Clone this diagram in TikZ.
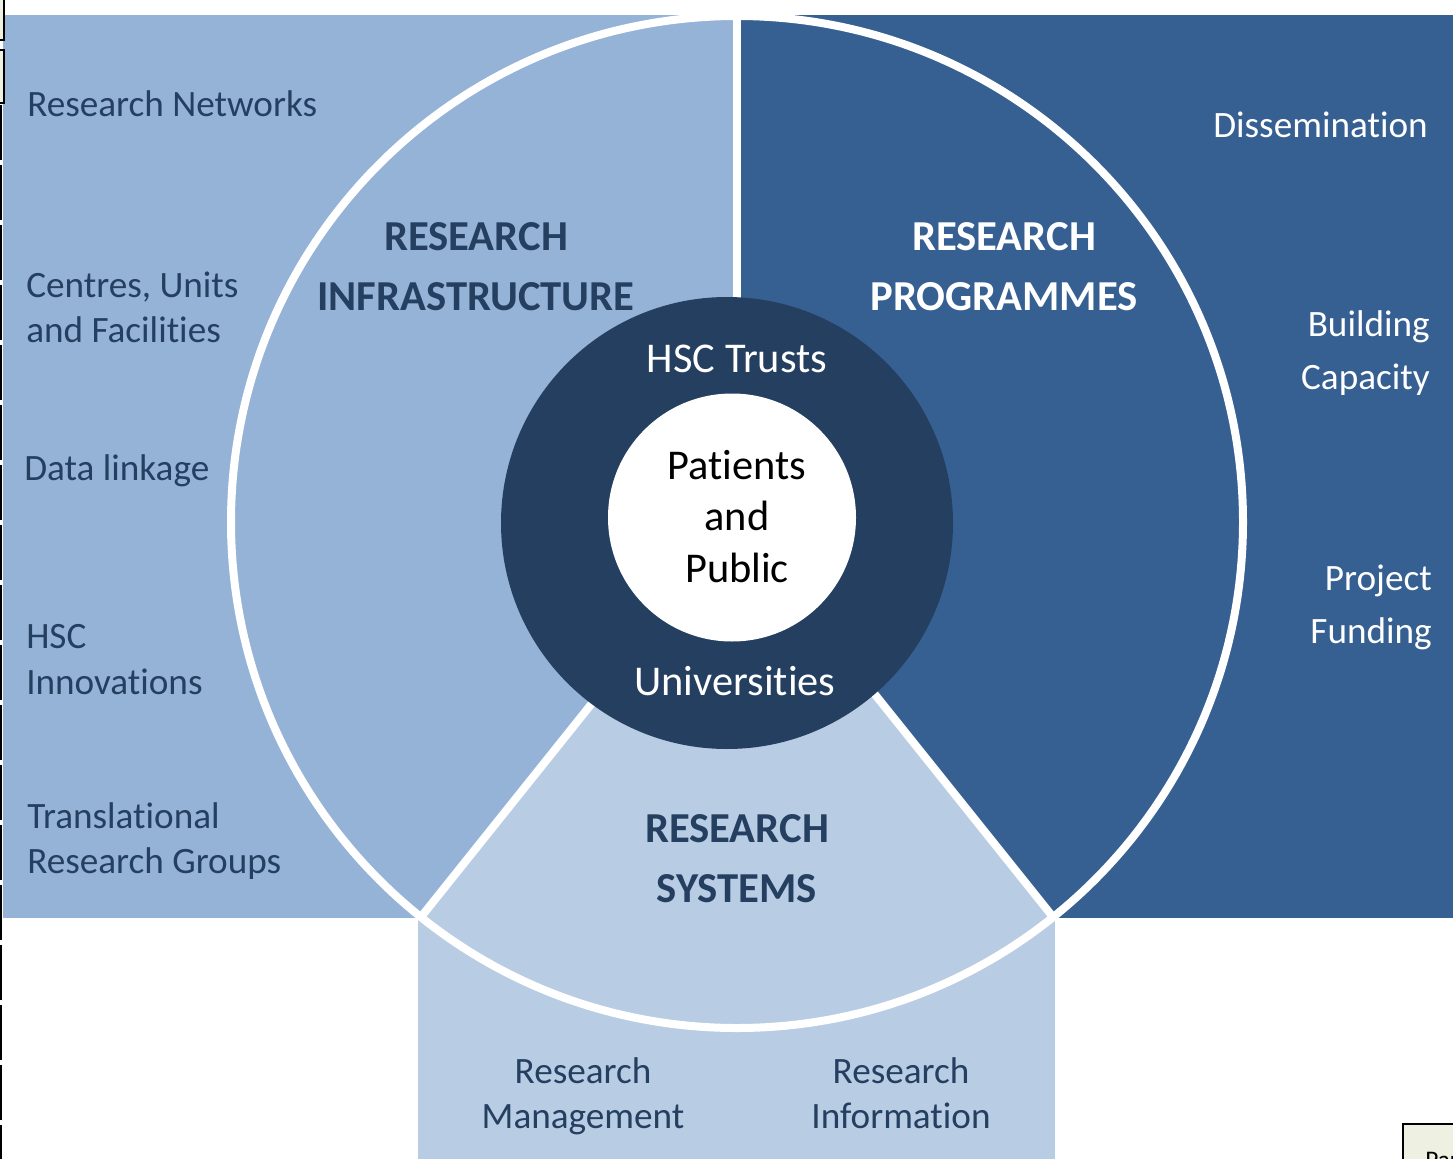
\documentclass[tikz,border=0pt]{standalone}
\usepackage{fontspec}
\setmainfont{Carlito}[Ligatures={NoCommon,NoContextual},Contextuals=NoAlternate]
\definecolor{infra}{HTML}{95B3D7}
\definecolor{prog}{HTML}{366092}
\definecolor{sys}{HTML}{B8CCE4}
\definecolor{core}{HTML}{243F60}
\definecolor{txt}{HTML}{243F60}
\definecolor{note}{HTML}{EEF0E2}
\begin{document}
\begin{tikzpicture}[x=0.75pt,y=-0.75pt,
  body/.style={font=\fontsize{27.9}{33}\selectfont, inner sep=0pt},
  head/.style={font=\bfseries\fontsize{32}{38}\selectfont, inner sep=0pt},
  mid/.style={font=\fontsize{31.8}{38}\selectfont, inner sep=0pt},
  divider/.style={draw=white, line width=6pt},
  dark/.style={text=txt},
  light/.style={text=white}]
\useasboundingbox (0,0) rectangle (1453,1159);
\clip (0,0) rectangle (1453,1159);
% background panels
\fill[infra] (3,15) rectangle (737,918);
\fill[prog] (737,15) rectangle (1453,918);
\fill[sys] (418,918) rectangle (1055,1159);
% wheel
\coordinate (O) at (737,522);
\coordinate (top) at (737,16);
\coordinate (rb) at (1053,917);
\coordinate (lb) at (421,917);
\begin{scope}
  \clip (O) circle[radius=506];
  \fill[infra] (O) circle[radius=520];
  \fill[prog] (O) -- (737,-600) -- (2317,-600) -- (2317,2497) -- cycle;
  \fill[sys] (O) -- (2317,2497) -- (-843,2497) -- cycle;
\end{scope}
\draw[divider] (O) circle[radius=506];
\draw[divider] (O) -- (top);
\draw[divider] (O) -- (rb);
\draw[divider] (O) -- (lb);
\node[circle, fill=core, minimum size=339pt, inner sep=0pt] (ring) at (727,523) {};
\node[circle, fill=white, minimum size=186pt, inner sep=0pt] (hub) at (732,517.5) {};
% left panel items
\node[body, dark, anchor=base west] (rn) at (27,117) {Research Networks};
\node[body, dark, anchor=base west] (cu1) at (26,297) {Centres, Units};
\node[body, dark, anchor=base west] (cu2) at (26,342) {and Facilities};
\node[body, dark, anchor=base west] (dl) at (24,480) {Data linkage};
\node[body, dark, anchor=base west] (hi1) at (26,648) {HSC};
\node[body, dark, anchor=base west] (hi2) at (26,694) {Innovations};
\node[body, dark, anchor=base west] (tr1) at (27,828) {Translational};
\node[body, dark, anchor=base west] (tr2) at (27,873) {Research Groups};
% right panel items
\node[body, light, anchor=base east] (ds) at (1428,138) {Dissemination};
\node[body, light, anchor=base east] (bc1) at (1430,336) {Building};
\node[body, light, anchor=base east] (bc2) at (1430,389) {Capacity};
\node[body, light, anchor=base east] (pf1) at (1432,590) {Project};
\node[body, light, anchor=base east] (pf2) at (1432,643) {Funding};
% headings
\node[head, dark, anchor=base] (ri1) at (476,250) {RESEARCH};
\node[head, dark, anchor=base] (ri2) at (476,310) {INFRASTRUCTURE};
\node[head, light, anchor=base] (rp1) at (1004,250) {RESEARCH};
\node[head, light, anchor=base] (rp2) at (1004,310) {PROGRAMMES};
\node[head, dark, anchor=base] (rs1) at (737,842) {RESEARCH};
\node[head, dark, anchor=base] (rs2) at (737,902) {SYSTEMS};
% core
\node[mid, light, anchor=base] (hsc) at (737,372) {HSC Trusts};
\node[mid, light, anchor=base] (uni) at (735,695) {Universities};
\node[mid, text=black, anchor=base] (pp1) at (737,479) {Patients};
\node[mid, text=black, anchor=base] (pp2) at (737,530) {and};
\node[mid, text=black, anchor=base] (pp3) at (737,582) {Public};
% bottom panel items
\node[body, dark, anchor=base] (rm1) at (583,1083) {Research};
\node[body, dark, anchor=base] (rm2) at (583,1128) {Management};
\node[body, dark, anchor=base] (ri3) at (901,1083) {Research};
\node[body, dark, anchor=base] (ri4) at (901,1128) {Information};
% page edge fragments
\draw[black, fill=note, line width=1pt] (-10,-10) rectangle (4,40);
\draw[black, fill=note, line width=1pt] (-10,50) rectangle (4,103);
\draw[black, line width=1.2pt, dash pattern=on 41pt off 4pt] (1,105) -- (1,1170);
\draw[black, fill=note, line width=1pt] (1403,1124) rectangle (1480,1190);
\node[font=\fontsize{19}{22}\selectfont, inner sep=0pt, anchor=base west] (par) at (1425,1168) {Par};
\end{tikzpicture}
\end{document}
